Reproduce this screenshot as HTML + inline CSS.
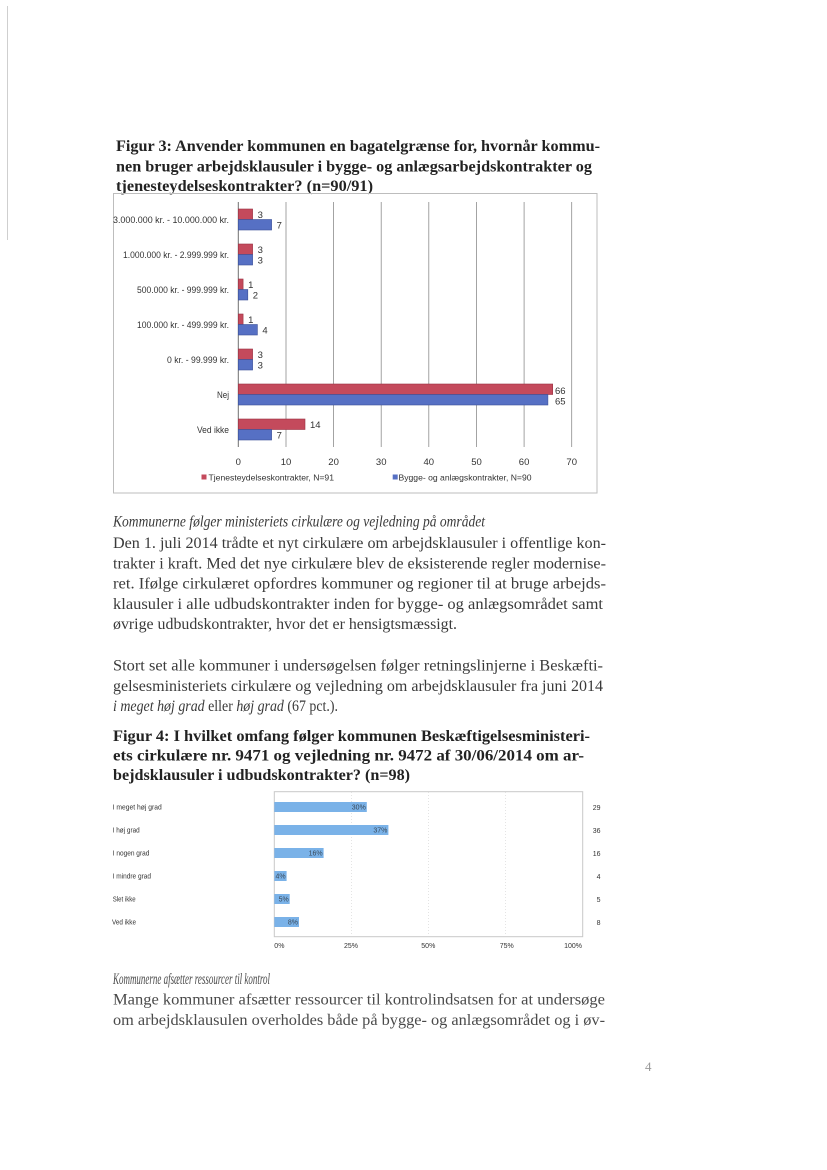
<!DOCTYPE html>
<html>
<head>
<meta charset="utf-8">
<style>
html,body{margin:0;padding:0;background:#fff;}
svg{display:block;}
.ser{font-family:"Liberation Serif",serif;}
.san{font-family:"Liberation Sans",sans-serif;}
</style>
</head>
<body>
<svg width="827" height="1170" viewBox="0 0 827 1170" xmlns="http://www.w3.org/2000/svg">
<rect x="0" y="0" width="827" height="1170" fill="#ffffff"/>
<!-- scan artifact line -->
<line x1="7.5" y1="6" x2="7.5" y2="240" stroke="#cfcfcf" stroke-width="1"/>

<!-- Figure 3 title -->
<g class="ser" font-weight="bold" font-size="16" fill="#222">
<text x="116" y="151" textLength="484" lengthAdjust="spacingAndGlyphs">Figur 3: Anvender kommunen en bagatelgrænse for, hvornår kommu-</text>
<text x="116" y="171.5" textLength="476" lengthAdjust="spacingAndGlyphs">nen bruger arbejdsklausuler i bygge- og anlægsarbejdskontrakter og</text>
<text x="116" y="191" textLength="257" lengthAdjust="spacingAndGlyphs">tjenesteydelseskontrakter? (n=90/91)</text>
</g>

<!-- Chart 1 -->
<rect x="113.5" y="193.5" width="483.5" height="299.5" fill="none" stroke="#bdbdbd" stroke-width="1"/>
<g stroke="#8c8c8c" stroke-width="0.8">
<line x1="286.0" y1="202" x2="286.0" y2="447"/>
<line x1="333.6" y1="202" x2="333.6" y2="447"/>
<line x1="381.2" y1="202" x2="381.2" y2="447"/>
<line x1="428.8" y1="202" x2="428.8" y2="447"/>
<line x1="476.5" y1="202" x2="476.5" y2="447"/>
<line x1="524.1" y1="202" x2="524.1" y2="447"/>
<line x1="571.7" y1="202" x2="571.7" y2="447"/>
</g>
<line x1="238.3" y1="202" x2="238.3" y2="447" stroke="#707070" stroke-width="1"/>

<g stroke-width="0.6">
<!-- red (Tjenesteydelse) -->
<g fill="#c44a5c" stroke="#9a3343">
<rect x="238.3" y="209" width="14.3" height="10.5"/>
<rect x="238.3" y="244" width="14.3" height="10.5"/>
<rect x="238.3" y="279" width="4.8" height="10.5"/>
<rect x="238.3" y="314" width="4.8" height="10.5"/>
<rect x="238.3" y="349" width="14.3" height="10.5"/>
<rect x="238.3" y="384" width="314.4" height="10.5"/>
<rect x="238.3" y="419" width="66.7" height="10.5"/>
</g>
<!-- blue (Bygge) -->
<g fill="#5670c4" stroke="#3c5198">
<rect x="238.3" y="219.5" width="33.3" height="10.5"/>
<rect x="238.3" y="254.5" width="14.3" height="10.5"/>
<rect x="238.3" y="289.5" width="9.5" height="10.5"/>
<rect x="238.3" y="324.5" width="19.1" height="10.5"/>
<rect x="238.3" y="359.5" width="14.3" height="10.5"/>
<rect x="238.3" y="394.5" width="309.6" height="10.5"/>
<rect x="238.3" y="429.5" width="33.3" height="10.5"/>
</g>
</g>

<!-- value labels -->
<g class="san" font-size="9.5" fill="#333">
<text x="257.6" y="218">3</text>
<text x="276.6" y="228.5">7</text>
<text x="257.6" y="253">3</text>
<text x="257.6" y="263.5">3</text>
<text x="248.1" y="288">1</text>
<text x="252.8" y="298.5">2</text>
<text x="248.1" y="323">1</text>
<text x="262.4" y="333.5">4</text>
<text x="257.6" y="358">3</text>
<text x="257.6" y="368.5">3</text>
<text x="555" y="394">66</text>
<text x="555" y="404.5">65</text>
<text x="310" y="428">14</text>
<text x="276.6" y="438.5">7</text>
</g>

<!-- category labels -->
<g class="san" font-size="9" fill="#333" text-anchor="end">
<text x="229" y="223" textLength="116" lengthAdjust="spacingAndGlyphs">3.000.000 kr. - 10.000.000 kr.</text>
<text x="229" y="258" textLength="106" lengthAdjust="spacingAndGlyphs">1.000.000 kr. - 2.999.999 kr.</text>
<text x="229" y="293" textLength="92" lengthAdjust="spacingAndGlyphs">500.000 kr. - 999.999 kr.</text>
<text x="229" y="328" textLength="92" lengthAdjust="spacingAndGlyphs">100.000 kr. - 499.999 kr.</text>
<text x="229" y="363" textLength="62" lengthAdjust="spacingAndGlyphs">0 kr. - 99.999 kr.</text>
<text x="229" y="398" textLength="12" lengthAdjust="spacingAndGlyphs">Nej</text>
<text x="229" y="433" textLength="32" lengthAdjust="spacingAndGlyphs">Ved ikke</text>
</g>

<!-- tick labels -->
<g class="san" font-size="9.5" fill="#333" text-anchor="middle">
<text x="238.3" y="465">0</text>
<text x="286.0" y="465">10</text>
<text x="333.6" y="465">20</text>
<text x="381.2" y="465">30</text>
<text x="428.8" y="465">40</text>
<text x="476.5" y="465">50</text>
<text x="524.1" y="465">60</text>
<text x="571.7" y="465">70</text>
</g>

<!-- legend -->
<rect x="201.5" y="474.5" width="5" height="5" fill="#c44a5c"/>
<text class="san" x="208.5" y="480.5" font-size="8.5" fill="#333" textLength="125.5" lengthAdjust="spacingAndGlyphs">Tjenesteydelseskontrakter, N=91</text>
<rect x="392.7" y="474.5" width="5" height="5" fill="#5670c4"/>
<text class="san" x="398.5" y="480.5" font-size="8.5" fill="#333" textLength="133" lengthAdjust="spacingAndGlyphs">Bygge- og anlægskontrakter, N=90</text>

<!-- Body text block 1 -->
<g class="ser" font-size="16" fill="#3a3a3a">
<text x="113" y="526.5" font-style="italic" textLength="372" lengthAdjust="spacingAndGlyphs">Kommunerne følger ministeriets cirkulære og vejledning på området</text>
<text x="113" y="548" textLength="493" lengthAdjust="spacingAndGlyphs">Den 1. juli 2014 trådte et nyt cirkulære om arbejdsklausuler i offentlige kon-</text>
<text x="113" y="568.3" textLength="493" lengthAdjust="spacingAndGlyphs">trakter i kraft. Med det nye cirkulære blev de eksisterende regler modernise-</text>
<text x="113" y="588.6" textLength="493" lengthAdjust="spacingAndGlyphs">ret. Ifølge cirkulæret opfordres kommuner og regioner til at bruge arbejds-</text>
<text x="113" y="608.9" textLength="490" lengthAdjust="spacingAndGlyphs">klausuler i alle udbudskontrakter inden for bygge- og anlægsområdet samt</text>
<text x="113" y="629.2" textLength="344" lengthAdjust="spacingAndGlyphs">øvrige udbudskontrakter, hvor det er hensigtsmæssigt.</text>

<text x="113" y="670.5" textLength="490" lengthAdjust="spacingAndGlyphs">Stort set alle kommuner i undersøgelsen følger retningslinjerne i Beskæfti-</text>
<text x="113" y="690.8" textLength="490" lengthAdjust="spacingAndGlyphs">gelsesministeriets cirkulære og vejledning om arbejdsklausuler fra juni 2014</text>
<text x="113" y="711.1" textLength="225" lengthAdjust="spacingAndGlyphs"><tspan font-style="italic">i meget høj grad</tspan> eller <tspan font-style="italic">høj grad</tspan> (67 pct.).</text>
</g>

<!-- Figure 4 title -->
<g class="ser" font-weight="bold" font-size="16" fill="#222">
<text x="113" y="741" textLength="477" lengthAdjust="spacingAndGlyphs">Figur 4: I hvilket omfang følger kommunen Beskæftigelsesministeri-</text>
<text x="113" y="760.5" textLength="471" lengthAdjust="spacingAndGlyphs">ets cirkulære nr. 9471 og vejledning nr. 9472 af 30/06/2014 om ar-</text>
<text x="113" y="780" textLength="297" lengthAdjust="spacingAndGlyphs">bejdsklausuler i udbudskontrakter? (n=98)</text>
</g>

<!-- Chart 2 -->
<rect x="274.3" y="791.7" width="308.4" height="145" fill="none" stroke="#c8c8c8" stroke-width="1"/>
<g stroke="#dddddd" stroke-width="0.8" stroke-dasharray="1,2">
<line x1="351.4" y1="792" x2="351.4" y2="936"/>
<line x1="428.5" y1="792" x2="428.5" y2="936"/>
<line x1="505.6" y1="792" x2="505.6" y2="936"/>
</g>
<g fill="#7ab2e8">
<rect x="274.3" y="802" width="92.5" height="10"/>
<rect x="274.3" y="825" width="114.1" height="10"/>
<rect x="274.3" y="848" width="49.3" height="10"/>
<rect x="274.3" y="871" width="12.3" height="10"/>
<rect x="274.3" y="894" width="15.4" height="10"/>
<rect x="274.3" y="917" width="24.7" height="10"/>
</g>
<g class="san" font-size="7" fill="#3a4a5a" text-anchor="end">
<text x="365.8" y="809.5">30%</text>
<text x="387.4" y="832.5">37%</text>
<text x="322.6" y="855.5">16%</text>
<text x="285.6" y="878.5">4%</text>
<text x="288.7" y="901.5">5%</text>
<text x="298" y="924.5">8%</text>
</g>
<g class="san" font-size="7" fill="#333">
<text x="112.7" y="809.5" textLength="49" lengthAdjust="spacingAndGlyphs">I meget høj grad</text>
<text x="112.7" y="832.5" textLength="27" lengthAdjust="spacingAndGlyphs">I høj grad</text>
<text x="112.7" y="855.5" textLength="36.7" lengthAdjust="spacingAndGlyphs">I nogen grad</text>
<text x="112.7" y="878.5" textLength="38.3" lengthAdjust="spacingAndGlyphs">I mindre grad</text>
<text x="112.7" y="901.5" textLength="23" lengthAdjust="spacingAndGlyphs">Slet ikke</text>
<text x="112" y="924.5" textLength="24" lengthAdjust="spacingAndGlyphs">Ved ikke</text>
</g>
<g class="san" font-size="7" fill="#333" text-anchor="end">
<text x="600.5" y="810">29</text>
<text x="600.5" y="833">36</text>
<text x="600.5" y="856">16</text>
<text x="600.5" y="879">4</text>
<text x="600.5" y="902">5</text>
<text x="600.5" y="925">8</text>
</g>
<g class="san" font-size="7" fill="#333">
<text x="274.3" y="948">0%</text>
<text x="351" y="948" text-anchor="middle">25%</text>
<text x="428.3" y="948" text-anchor="middle">50%</text>
<text x="506.7" y="948" text-anchor="middle">75%</text>
<text x="582" y="948" text-anchor="end">100%</text>
</g>

<!-- Bottom text -->
<g class="ser" font-size="16" fill="#4a4a4a">
<text x="113" y="984" font-style="italic" textLength="157" lengthAdjust="spacingAndGlyphs">Kommunerne afsætter ressourcer til kontrol</text>
<text x="113" y="1004.5" textLength="492" lengthAdjust="spacingAndGlyphs">Mange kommuner afsætter ressourcer til kontrolindsatsen for at undersøge</text>
<text x="113" y="1025" textLength="492" lengthAdjust="spacingAndGlyphs">om arbejdsklausulen overholdes både på bygge- og anlægsområdet og i øv-</text>
</g>

<!-- page number -->
<text class="ser" x="645" y="1071" font-size="13" fill="#999">4</text>
</svg>
</body>
</html>
